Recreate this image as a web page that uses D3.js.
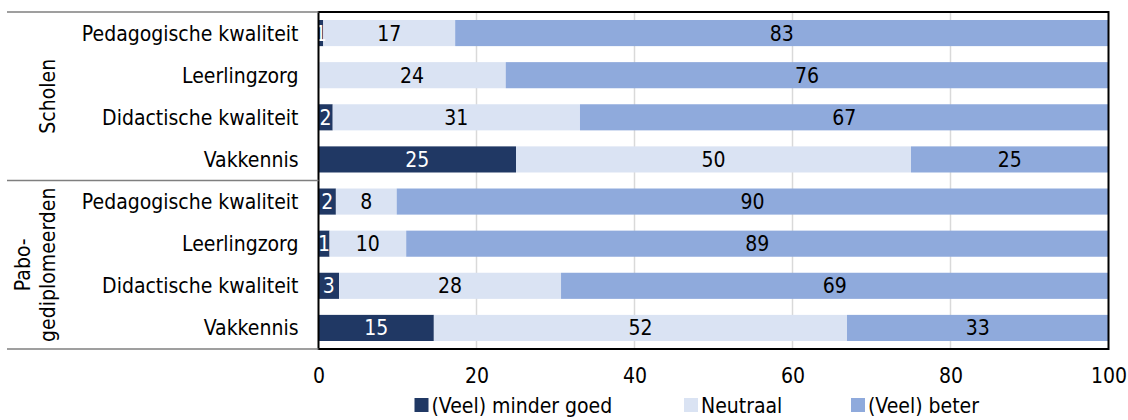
<!DOCTYPE html>
<html>
<head>
<meta charset="utf-8">
<script src="https://cdn.jsdelivr.net/npm/d3@7"></script>
<style>
  body { margin: 0; background: #fff; }
  text { font-family: "DejaVu Sans Condensed", "DejaVu Sans", sans-serif; }
</style>
</head>
<body>
<div id="chart"></div>
<script>
// data (percentages)
const groups = ["Scholen", "Pabo-gediplomeerden"];
const items = ["Pedagogische kwaliteit", "Leerlingzorg", "Didactische kwaliteit", "Vakkennis"];
const series = ["(Veel) minder goed", "Neutraal", "(Veel) beter"];
const minderGoed = [0.6, 0, 1.8, 25, 2.2, 1.4, 2.6, 14.6];
const neutraal = [16.7, 23.7, 31.3, 50, 7.7, 9.7, 28.1, 52.3];
const beter = [82.7, 76.3, 66.9, 25, 90.1, 88.9, 69.3, 33.1];
const xTicks = [0, 20, 40, 60, 80, 100];

const colors = ["#203864", "#dae3f3", "#8faadc"];
const labelColors = ["#fff", "#000", "#000"];

const width = 1128, height = 420;
const margin = { top: 12, right: 19.5, bottom: 71, left: 318.5 };
const fs = 21;

const svg = d3.select("#chart").append("svg")
  .attr("width", width)
  .attr("height", height);

const rows = [];
groups.forEach((g, gi) => {
  items.forEach((it, ii) => {
    const i = gi * items.length + ii;
    rows.push({ key: i, group: g, label: it, vals: [minderGoed[i], neutraal[i], beter[i]] });
  });
});

const x = d3.scaleLinear().domain([0, 100]).range([margin.left, width - margin.right]);
const y = d3.scaleBand().domain(rows.map(r => r.key))
  .range([margin.top, height - margin.bottom])
  .paddingInner(0.38).paddingOuter(0.19);

// gridlines
svg.append("g")
  .selectAll("line")
  .data(xTicks.filter(t => t > 0 && t < 100))
  .join("line")
    .attr("x1", d => x(d)).attr("x2", d => x(d))
    .attr("y1", margin.top).attr("y2", height - margin.bottom)
    .attr("stroke", "#d9d9d9")
    .attr("stroke-width", 1.5);

// stacked bars
const stack = rows.map(r => {
  let acc = 0;
  return r.vals.map((v, si) => {
    const seg = { row: r.key, si: si, v: v, x0: acc, x1: acc + v };
    acc += v;
    return seg;
  });
}).flat();

svg.append("g")
  .selectAll("rect")
  .data(stack.filter(d => d.v > 0))
  .join("rect")
    .attr("x", d => x(d.x0))
    .attr("y", d => y(d.row))
    .attr("width", d => x(d.x1) - x(d.x0))
    .attr("height", y.bandwidth())
    .attr("fill", d => colors[d.si]);

svg.append("g")
  .attr("font-size", fs)
  .attr("text-anchor", "middle")
  .selectAll("text")
  .data(stack.filter(d => d.v > 0))
  .join("text")
    .attr("x", d => x((d.x0 + d.x1) / 2))
    .attr("y", d => y(d.row) + y.bandwidth() / 2)
    .attr("dy", "0.36em")
    .attr("fill", d => labelColors[d.si])
    .text(d => d3.format(".0f")(d.v));

// plot frame
svg.append("rect")
  .attr("x", margin.left).attr("y", margin.top)
  .attr("width", x(100) - x(0))
  .attr("height", height - margin.bottom - margin.top)
  .attr("fill", "none")
  .attr("stroke", "#000")
  .attr("stroke-width", 2);

// x axis
const xAxis = svg.append("g")
  .attr("transform", `translate(0,${height - margin.bottom + 11})`)
  .call(d3.axisBottom(x).tickValues(xTicks).tickSize(0).tickPadding(8));
xAxis.select(".domain").remove();
xAxis.selectAll("text").attr("font-size", fs).attr("fill", "#000")
  .style("font-family", "'DejaVu Sans Condensed', 'DejaVu Sans', sans-serif");

// category labels
svg.append("g")
  .attr("font-size", fs)
  .attr("text-anchor", "end")
  .selectAll("text")
  .data(rows)
  .join("text")
    .attr("x", margin.left - 20)
    .attr("y", d => y(d.key) + y.bandwidth() / 2)
    .attr("dy", "0.36em")
    .text(d => d.label);

// group separators
const step = (height - margin.bottom - margin.top) / groups.length;
svg.append("g")
  .selectAll("line")
  .data(d3.range(groups.length + 1))
  .join("line")
    .attr("x1", 7).attr("x2", margin.left)
    .attr("y1", d => margin.top + d * step)
    .attr("y2", d => margin.top + d * step)
    .attr("stroke", "#7f7f7f")
    .attr("stroke-width", 1.5);

// group labels (rotated)
const gl = svg.append("g").attr("font-size", fs).attr("text-anchor", "middle");
gl.selectAll("g")
  .data(groups)
  .join("g")
    .attr("transform", (d, i) => `translate(47,${margin.top + (i + 0.5) * step}) rotate(-90)`)
  .each(function(d) {
    const parts = d === "Pabo-gediplomeerden" ? ["Pabo-", "gediplomeerden"] : [d];
    d3.select(this).selectAll("text")
      .data(parts)
      .join("text")
        .attr("y", (p, j) => (j - (parts.length - 1)) * 25)
        .attr("dy", "0.36em")
        .text(p => p);
  });

// legend
const legendX = [414.5, 684, 851];
const lg = svg.append("g").attr("font-size", fs);
const li = lg.selectAll("g")
  .data(series)
  .join("g")
    .attr("transform", (d, i) => `translate(${legendX[i]},${height - 15})`);
li.append("rect")
  .attr("x", 0).attr("y", -7)
  .attr("width", 14).attr("height", 14)
  .attr("fill", (d, i) => colors[i]);
li.append("text")
  .attr("x", 17)
  .attr("dy", "0.36em")
  .text(d => d);
</script>
</body>
</html>
